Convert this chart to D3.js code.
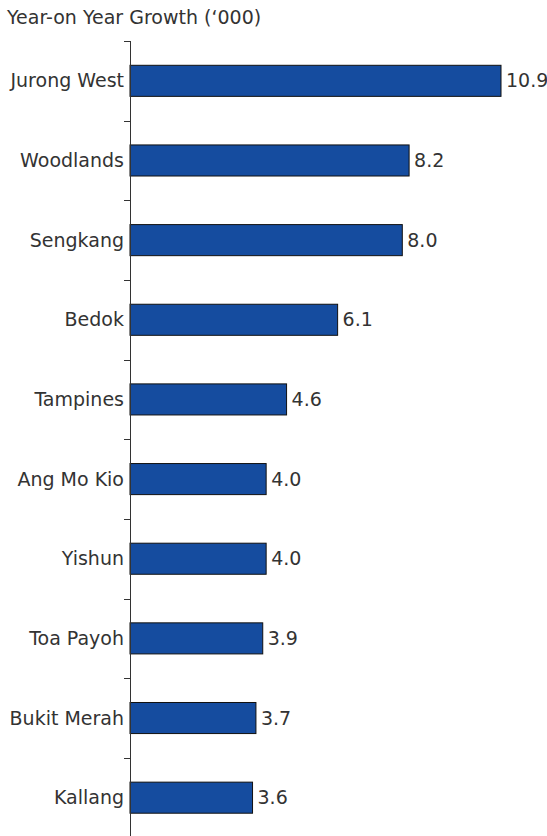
<!DOCTYPE html>
<html>
<head>
<meta charset="utf-8">
<script src="https://cdn.jsdelivr.net/npm/d3@7"></script>
<style>
  html, body { margin: 0; padding: 0; background: #fff; }
  svg { display: block; font-family: "DejaVu Sans", Verdana, sans-serif; }
</style>
</head>
<body>
<svg id="chart" width="547" height="836"></svg>
<script>
// Planning areas and their year-on-year growth, in thousands
const areas = ["Jurong West", "Woodlands", "Sengkang", "Bedok", "Tampines",
               "Ang Mo Kio", "Yishun", "Toa Payoh", "Bukit Merah", "Kallang"];
const growth = [10.9, 8.2, 8.0, 6.1, 4.6, 4.0, 4.0, 3.9, 3.7, 3.6];
const valueLabels = ["10.9", "8.2", "8.0", "6.1", "4.6", "4.0", "4.0", "3.9", "3.7", "3.6"];
const axisTitle = "Year-on Year Growth (\u2018000)";

const svg = d3.select("#chart");
const textColor = "#333";
const fontSize = 19;

const x0 = 130;
const x = d3.scaleLinear().domain([0, 10.9]).range([x0, 501]);
const y = d3.scaleBand().domain(areas).range([41, 837.5]).paddingInner(0.61).paddingOuter(0.305);

// title
svg.append("text")
  .attr("x", 7).attr("y", 24)
  .attr("fill", textColor)
  .attr("font-size", fontSize)
  .text(axisTitle);

// bars
svg.append("g").selectAll("rect")
  .data(areas)
  .join("rect")
  .attr("x", x(0))
  .attr("y", d => y(d))
  .attr("width", (d, i) => x(growth[i]) - x(0))
  .attr("height", y.bandwidth())
  .attr("fill", "#154c9f")
  .attr("stroke", "#111")
  .attr("stroke-width", 1);

// vertical axis line with ticks at category boundaries
const axisG = svg.append("g");
axisG.append("line")
  .attr("x1", x0 + 0.5).attr("x2", x0 + 0.5)
  .attr("y1", 41).attr("y2", 836)
  .attr("stroke", "#333").attr("stroke-width", 1);
const bounds = areas.map(d => y(d) - y.step() * y.paddingInner() / 2);
axisG.selectAll("line.tick")
  .data(bounds)
  .join("line")
  .attr("class", "tick")
  .attr("x1", x0 - 6).attr("x2", x0 + 0.5)
  .attr("y1", d => Math.round(d) + 0.5).attr("y2", d => Math.round(d) + 0.5)
  .attr("stroke", "#333").attr("stroke-width", 1);

// category labels
svg.append("g").selectAll("text")
  .data(areas)
  .join("text")
  .attr("x", 124)
  .attr("y", d => y(d) + y.bandwidth() / 2)
  .attr("dy", "0.35em")
  .attr("text-anchor", "end")
  .attr("font-size", fontSize)
  .attr("fill", textColor)
  .text(d => d);

// value labels
svg.append("g").selectAll("text")
  .data(areas)
  .join("text")
  .attr("x", (d, i) => x(growth[i]) + 5)
  .attr("y", d => y(d) + y.bandwidth() / 2)
  .attr("dy", "0.35em")
  .attr("font-size", fontSize)
  .attr("fill", textColor)
  .text((d, i) => valueLabels[i]);
</script>
</body>
</html>
